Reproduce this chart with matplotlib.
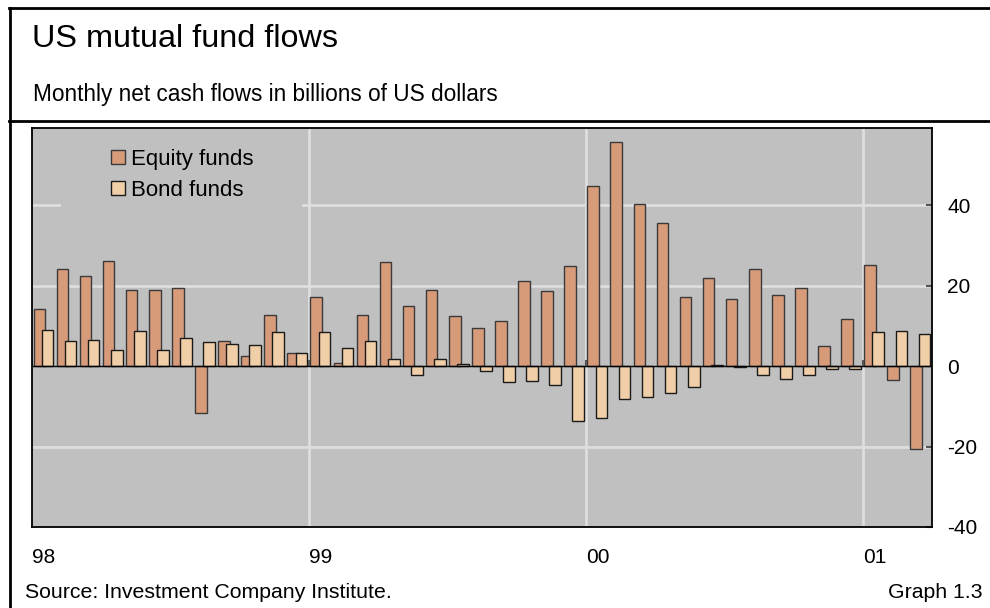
import matplotlib
matplotlib.use("Agg")
import matplotlib.pyplot as plt
from matplotlib.patches import Rectangle, Patch
from matplotlib.lines import Line2D
import numpy as np

plt.rcParams['font.family'] = ['Liberation Sans', 'DejaVu Sans']
plt.rcParams['axes.unicode_minus'] = False

# ---- data (billions of US dollars, monthly, Jan 1998 - Mar 2001) ----
months = [f"{y}-{m:02d}" for y in (1998, 1999, 2000, 2001) for m in range(1, 13)][:39]
equity = [14.1, 24.1, 22.4, 26.2, 18.8, 19.0, 19.3, -11.7, 6.2, 2.4, 12.8, 3.2,
          17.3, 0.75, 12.6, 25.9, 14.9, 18.9, 12.4, 9.5, 11.2, 21.1, 18.6, 24.9,
          44.7, 55.8, 40.3, 35.6, 17.3, 22.0, 16.8, 24.2, 17.6, 19.3, 5.0, 11.6,
          25.1, -3.4, -20.7]
bond = [9.0, 6.2, 6.4, 4.1, 8.7, 4.1, 6.9, 5.9, 5.6, 5.2, 8.6, 3.3,
        8.4, 4.4, 6.2, 1.7, -2.1, 1.8, 0.5, -1.2, -4.0, -3.6, -4.8, -13.7,
        -13.0, -8.3, -7.8, -6.8, -5.2, 0.4, -0.3, -2.1, -3.2, -2.1, -0.7, -0.8,
        8.6, 8.8, 7.9]
year_ticks = [0, 12, 24, 36]
year_labels = ["98", "99", "00", "01"]
y_ticks = [-40, -20, 0, 20, 40]

EQ_COLOR = "#D89B7A"
BD_COLOR = "#F0CEA8"
BG = "#C0C0C0"
GRID = "#DEDEDE"

W, H = 990, 608
fig = plt.figure(figsize=(W / 100, H / 100), dpi=100)

# axes placement (pixels -> figure fraction)
L, R, T, B = 32, 932, 128, 527
ax = fig.add_axes([L / W, 1 - B / H, (R - L) / W, (B - T) / H])
ax.set_facecolor(BG)
ax.set_xlim(0, len(months))
ax.set_ylim(-40, 59.2)

x = np.arange(len(months))
ax.bar(x + 0.065, equity, width=0.505, align='edge', color=EQ_COLOR,
       edgecolor="#3a3a3a", linewidth=1.0, zorder=3)
ax.bar(x + 0.42, bond, width=0.505, align='edge', color=BD_COLOR,
       edgecolor="#1a1a1a", linewidth=1.0, zorder=4)

# grid
for yv in [-20, 20, 40]:
    ax.axhline(yv, color=GRID, lw=2.0, zorder=1)
for xv in year_ticks[1:]:
    ax.axvline(xv, color=GRID, lw=2.0, zorder=1)
ax.axhline(0, color="black", lw=1.0, zorder=5)
# small year markers on zero line
ax.vlines(year_ticks, 0, 1.5, color="#555555", lw=1.5, zorder=5)

# legend backdrop covering grid
ax.add_patch(Rectangle(((61 - L) / (R - L), 1 - (212 - T) / (B - T)),
                       (302 - 61) / (R - L), (212 - 129) / (B - T),
                       transform=ax.transAxes, facecolor=BG, edgecolor='none', zorder=2))
handles = [Patch(facecolor=EQ_COLOR, edgecolor="#3a3a3a", lw=1.0, label="Equity funds"),
           Patch(facecolor=BD_COLOR, edgecolor="#1a1a1a", lw=1.0, label="Bond funds")]
leg = ax.legend(handles=handles, loc='upper left', frameon=False, fontsize=16,
                bbox_to_anchor=((111 - L) / (R - L), 1 - (149 - T) / (B - T)),
                borderaxespad=0, borderpad=0, handlelength=0.62, handleheight=0.62,
                handletextpad=0.3, labelspacing=0.45)
leg.set_zorder(6)

# axes spines / ticks
for s in ax.spines.values():
    s.set_color("black")
    s.set_linewidth(1.3)
    s.set_zorder(7)
ax.yaxis.tick_right()
ax.set_yticks(y_ticks)
ax.set_yticklabels([str(v) for v in y_ticks])
ax.tick_params(axis='y', direction='in', length=4.5, width=1.5, color="#555555",
               labelsize=15, pad=11)
for lab in ax.get_yticklabels():
    lab.set_horizontalalignment('left')
ax.set_xticks(year_ticks)
ax.set_xticklabels(year_labels)
ax.tick_params(axis='x', length=0, labelsize=15, pad=15)
for lab in ax.get_xticklabels():
    lab.set_horizontalalignment('left')

# header / footer text
fig.text(32 / W, 1 - 47 / H, "US mutual fund flows", fontsize=23.3, va='baseline', ha='left')
fig.text(33 / W, 1 - 101 / H, "Monthly net cash flows in billions of US dollars",
         fontsize=16.3, va='baseline', ha='left')
fig.text(25 / W, 1 - 592 / H, "Source: Investment Company Institute.", fontsize=15.3,
         va='center', ha='left')
fig.text(983 / W, 1 - 592 / H, "Graph 1.3", fontsize=15.3, va='center', ha='right')

# outer frame lines
fig.add_artist(Line2D([10 / W, 10 / W], [0, 1 - 7.5 / H], color='black', lw=2.0,
                      transform=fig.transFigure))
fig.add_artist(Line2D([9 / W, 1], [1 - 7.5 / H, 1 - 7.5 / H], color='black', lw=2.0,
                      transform=fig.transFigure))
fig.add_artist(Line2D([9 / W, 1], [1 - 120.5 / H, 1 - 120.5 / H], color='black', lw=2.0,
                      transform=fig.transFigure))

fig.savefig("out.png", dpi=100)
